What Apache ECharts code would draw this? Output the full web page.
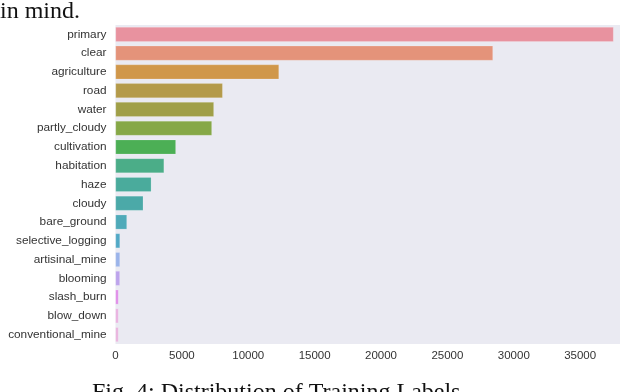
<!DOCTYPE html>
<html lang="en">
<head>
    <meta charset="UTF-8">
    <title>Distribution of Training Labels</title>
    <script src="https://cdn.jsdelivr.net/npm/echarts@6/dist/echarts.min.js"></script>
    <style>
        html, body { margin: 0; padding: 0; background: #fff; }
        #chart { width: 640px; height: 392px; }
    </style>
</head>
<body>
    <div id="chart"></div>
    <script type="text/javascript">
        // label names, top to bottom
        var labels = ['primary', 'clear', 'agriculture', 'road', 'water', 'partly_cloudy',
            'cultivation', 'habitation', 'haze', 'cloudy', 'bare_ground', 'selective_logging',
            'artisinal_mine', 'blooming', 'slash_burn', 'blow_down', 'conventional_mine'];
        // count per label
        var counts = [37513, 28431, 12315, 8071, 7411, 7261, 4547, 3660, 2697, 2089,
            862, 340, 339, 332, 209, 101, 100];
        // one colour per bar (husl-like palette)
        var colors = ['#e8929f', '#e4937a', '#d0974a', '#b49a4a', '#a09f48', '#86a847',
            '#4caf55', '#4bad88', '#4aab9c', '#4ba9a8', '#4faab9', '#52a9c6',
            '#9bb4ea', '#bda4ec', '#e08ee9', '#eab2e0', '#eab4de'];
        var xTicks = [0, 5000, 10000, 15000, 20000, 25000, 30000, 35000];

        var myChart = echarts.init(document.getElementById('chart'));
        var option = {
            animation: false,
            backgroundColor: '#ffffff',
            grid: {
                left: 115.5,
                right: 20,
                top: 25,
                bottom: 48,
                show: true,
                backgroundColor: '#eaeaf2',
                borderWidth: 0
            },
            xAxis: {
                type: 'value',
                min: 0,
                max: 38000,
                interval: 5000,
                axisLine: { show: false },
                axisTick: { show: false },
                splitLine: { show: false },
                axisLabel: {
                    color: '#333',
                    fontFamily: 'Liberation Sans',
                    fontSize: 11.5,
                    margin: 6,
                    showMaxLabel: false,
                    formatter: function (v) {
                        return xTicks.indexOf(v) >= 0 ? String(v) : '';
                    }
                }
            },
            yAxis: {
                type: 'category',
                inverse: true,
                data: labels,
                axisLine: { show: false },
                axisTick: { show: false },
                splitLine: { show: false },
                axisLabel: {
                    color: '#333',
                    fontFamily: 'Liberation Sans',
                    fontSize: 11.8,
                    margin: 9
                }
            },
            series: [
                {
                    type: 'bar',
                    barCategoryGap: '22%',
                    barMinHeight: 3,
                    data: counts.map(function (v, i) {
                        return { value: v, itemStyle: { color: colors[i] } };
                    }),
                    itemStyle: {
                        borderColor: 'rgba(255,255,255,0.35)',
                        borderWidth: 0.5
                    }
                }
            ],
            graphic: [
                {
                    type: 'text',
                    left: 0,
                    top: 0,
                    style: {
                        text: 'in mind.',
                        fill: '#111',
                        font: '24px "Liberation Serif"'
                    }
                },
                {
                    type: 'text',
                    left: 92,
                    top: 381,
                    style: {
                        text: 'Fig. 4: Distribution of Training Labels',
                        fill: '#111',
                        font: '24px "Liberation Serif"'
                    }
                }
            ]
        };
        myChart.setOption(option);
    </script>
</body>
</html>
